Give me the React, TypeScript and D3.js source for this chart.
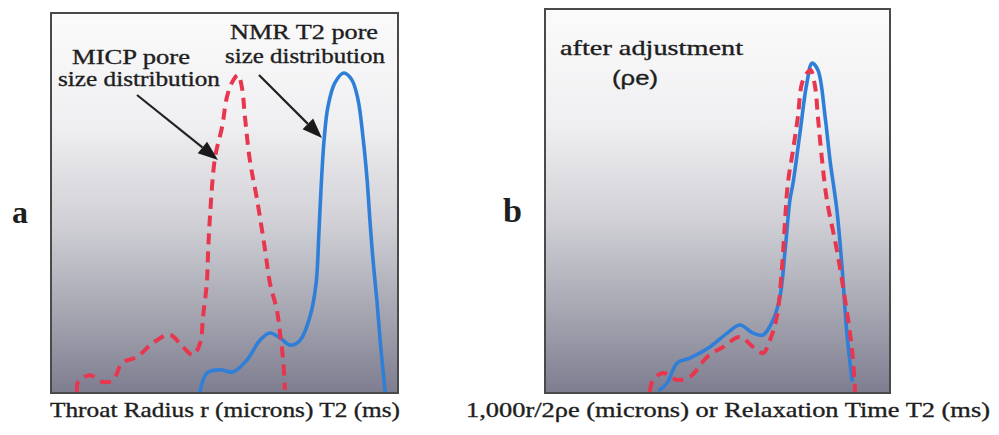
import React from "react";
import * as d3 from "d3";

// ---- Data (arbitrary units 0-100 on both axes) ----
// Panel a
const micpA: [number, number][] = [
  [7.5, 0.3], [7.8, 2.9], [11.2, 4.7], [15.0, 2.9], [17.9, 3.4], [20.5, 7.9],
  [24.8, 9.5], [29.4, 13.2], [34.3, 15.3], [38.0, 12.1], [40.9, 10.0], [43.0, 13.2],
  [43.8, 20.0], [44.9, 28.9], [45.3, 37.6], [45.8, 46.3], [47.3, 62.1], [49.3, 70.0],
  [50.7, 77.9], [52.2, 81.8], [53.9, 83.7], [55.0, 80.5], [55.9, 72.6], [57.3, 61.3],
  [59.4, 50.8], [61.7, 37.6], [63.1, 28.9], [65.1, 21.8], [66.0, 15.8], [66.9, 8.7],
  [67.4, 0.8],
];
const nmrA: [number, number][] = [
  [42.9, 0.3], [45.0, 5.3], [48.7, 6.1], [52.4, 5.5], [56.5, 8.7], [60.2, 13.9],
  [63.1, 15.8], [66.0, 14.5], [68.9, 12.6], [71.8, 13.9], [74.6, 20.0], [76.4, 28.9],
  [77.2, 42.1], [77.8, 53.4], [78.7, 66.6], [79.8, 75.3], [81.8, 81.6], [84.4, 84.2],
  [86.7, 82.4], [88.5, 77.1], [89.9, 67.4], [91.1, 56.1], [91.9, 45.5], [92.8, 35.0],
  [93.9, 24.5], [95.1, 11.3], [96.3, 0.3],
];
// Panel b
const micpB: [number, number][] = [
  [30.4, 0.3], [31.3, 3.4], [34.2, 5.2], [38.3, 3.4], [42.0, 4.2], [47.0, 9.4],
  [51.6, 12.0], [56.5, 14.6], [60.3, 12.0], [63.2, 10.4], [65.2, 13.8], [67.2, 19.8],
  [68.7, 32.8], [69.6, 45.1], [70.4, 54.7], [71.9, 63.3], [73.3, 71.9], [74.5, 80.7],
  [76.2, 83.6], [77.0, 84.1], [78.3, 79.7], [79.1, 71.9], [80.3, 60.7], [81.7, 50.3],
  [84.6, 37.2], [87.0, 24.2], [89.0, 11.2], [89.9, 0.3],
];
const nmrB: [number, number][] = [
  [33.3, 0.8], [35.4, 2.6], [38.3, 7.8], [42.0, 9.1], [47.8, 12.0], [52.8, 15.6],
  [56.5, 17.7], [60.3, 15.6], [63.2, 15.1], [66.1, 19.0], [68.1, 25.0], [69.6, 37.2],
  [71.0, 50.3], [71.9, 54.7], [73.9, 67.7], [75.9, 80.7], [77.4, 85.9], [79.1, 84.1],
  [81.2, 71.9], [82.6, 60.7], [84.6, 47.7], [86.1, 32.8], [87.5, 15.6], [89.0, 3.4],
];

const panelLetters = ["a", "b"];
const xAxisLabels = [
  "Throat Radius r (microns) T2 (ms)",
  "1,000r/2\u03C1e (microns) or Relaxation Time T2 (ms)",
];

const RED = "#e8364f";
const BLUE = "#2f7fd8";
const SERIF = "'Liberation Serif', 'Times New Roman', serif";
const SANS = "'Liberation Sans', Arial, sans-serif";

type Box = { x0: number; x1: number; y0: number; y1: number };
const boxA: Box = { x0: 51, x1: 398, y0: 13, y1: 393 };
const boxB: Box = { x0: 545, x1: 890, y0: 9, y1: 393 };

function T(props: {
  x: number; y: number; w: number; size: number; text: string; font?: string; weight?: string;
}) {
  return (
    <text
      x={props.x}
      y={props.y}
      fontFamily={props.font ?? SERIF}
      fontSize={props.size}
      fontWeight={props.weight ?? "normal"}
      fill="#1e1e1e"
      stroke="#1e1e1e"
      strokeWidth={props.weight === "bold" ? 0 : 0.35}
      textLength={props.w}
      lengthAdjust="spacingAndGlyphs"
    >
      {props.text}
    </text>
  );
}

function Arrow({ x1, y1, x2, y2 }: { x1: number; y1: number; x2: number; y2: number }) {
  const ang = Math.atan2(y2 - y1, x2 - x1);
  const L = 20, W = 7.5;
  const bx = x2 - L * Math.cos(ang), by = y2 - L * Math.sin(ang);
  const px = -Math.sin(ang) * W, py = Math.cos(ang) * W;
  return (
    <g>
      <line x1={x1} y1={y1} x2={bx} y2={by} stroke="#222" strokeWidth={2.2} />
      <polygon
        points={`${x2},${y2} ${bx + px},${by + py} ${bx - px},${by - py}`}
        fill="#1a1a1a"
      />
    </g>
  );
}

function Panel({ id, box, red, blue }: { id: string; box: Box; red: [number, number][]; blue: [number, number][] }) {
  const x = d3.scaleLinear().domain([0, 100]).range([box.x0, box.x1]);
  const y = d3.scaleLinear().domain([0, 100]).range([box.y1, box.y0]);
  const line = d3
    .line<[number, number]>()
    .x((d) => x(d[0]))
    .y((d) => y(d[1]))
    .curve(d3.curveCatmullRom.alpha(0.5));
  return (
    <g>
      <defs>
        <clipPath id={`clip-${id}`}>
          <rect x={box.x0} y={box.y0} width={box.x1 - box.x0} height={box.y1 - box.y0} />
        </clipPath>
      </defs>
      <rect
        x={box.x0}
        y={box.y0}
        width={box.x1 - box.x0}
        height={box.y1 - box.y0}
        fill="url(#bgGrad)"
      />
      <g clipPath={`url(#clip-${id})`}>
        <path d={line(blue) ?? ""} fill="none" stroke={BLUE} strokeWidth={3.6} strokeLinecap="round" />
        <path
          d={line(red) ?? ""}
          fill="none"
          stroke={RED}
          strokeWidth={4}
          strokeDasharray="11 7"
          strokeLinecap="butt"
        />
      </g>
      <rect
        x={box.x0}
        y={box.y0}
        width={box.x1 - box.x0}
        height={box.y1 - box.y0}
        fill="none"
        stroke="#4a4a4a"
        strokeWidth={2}
      />
    </g>
  );
}

export default function App() {
  return (
    <svg
      width={999}
      height={435}
      style={{ position: "absolute", left: 0, top: 0, background: "#ffffff" }}
    >
      <defs>
        <linearGradient id="bgGrad" x1="0" y1="0" x2="0" y2="1">
          <stop offset="0%" stopColor="#fbfbfc" />
          <stop offset="30%" stopColor="#efeff1" />
          <stop offset="55%" stopColor="#d0d0d6" />
          <stop offset="80%" stopColor="#a4a4b0" />
          <stop offset="100%" stopColor="#7d7d90" />
        </linearGradient>
      </defs>

      <Panel id="a" box={boxA} red={micpA} blue={nmrA} />
      <Panel id="b" box={boxB} red={micpB} blue={nmrB} />

      {/* Panel a annotations */}
      <T x={72} y={64} w={118} size={21} text="MICP pore" />
      <T x={58} y={86} w={162} size={21} text="size distribution" />
      <T x={230} y={39} w={148} size={21} text="NMR T2 pore" />
      <T x={225} y={63} w={160} size={21} text="size distribution" />
      <Arrow x1={137} y1={95} x2={218} y2={160} />
      <Arrow x1={259} y1={75} x2={322} y2={138} />

      {/* Panel b annotations */}
      <T x={560} y={55} w={183} size={21} text="after adjustment" />
      <T x={612} y={85} w={46} size={20} text={"(\u03C1e)"} font={SANS} />

      {/* Panel letters */}
      <T x={12} y={223} w={16} size={32} weight="bold" text={panelLetters[0]} />
      <T x={503} y={222} w={19} size={34} weight="bold" text={panelLetters[1]} />

      {/* X axis labels */}
      <T x={50} y={417} w={350} size={21} text={xAxisLabels[0]} />
      <T x={466} y={417} w={524} size={21} text={xAxisLabels[1]} />
    </svg>
  );
}
